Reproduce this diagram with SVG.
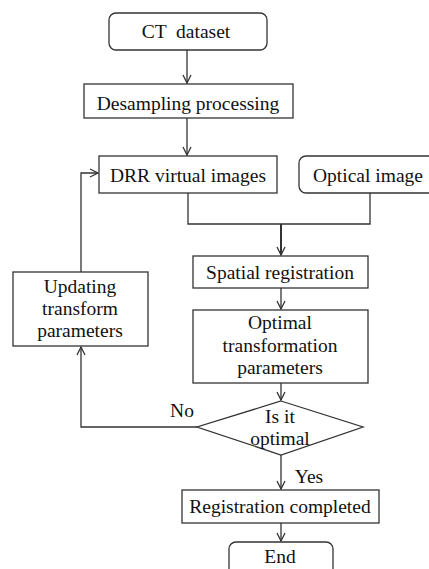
<svg xmlns="http://www.w3.org/2000/svg" width="429" height="569" viewBox="0 0 429 569">
  <style>
    .box { fill: #ffffff; stroke: #333333; stroke-width: 1.3; }
    .lbl { font-family: "Liberation Serif", "Times New Roman", serif; font-size: 19.5px; fill: #111111; text-anchor: middle; white-space: pre; }
    .edge { fill: none; stroke: #333333; stroke-width: 1.3; }
    .thick { stroke-width: 2; }
  </style>
  <defs>
    <marker id="arrow" viewBox="0 0 10 10" refX="9" refY="5" markerWidth="10" markerHeight="10" markerUnits="userSpaceOnUse" orient="auto">
      <path d="M1,1 L9,5 L1,9" fill="none" stroke="#333333" stroke-width="1.3"/>
    </marker>
  </defs>
  <rect width="429" height="569" fill="#ffffff"/>

  <g id="connectors">
    <line class="edge" x1="187" y1="50" x2="187" y2="83" marker-end="url(#arrow)"/>
    <line class="edge" x1="187" y1="118" x2="187" y2="155" marker-end="url(#arrow)"/>
    <polyline class="edge" points="188,193 188,224 370,224 370,193"/>
    <line class="edge thick" x1="281" y1="224" x2="281" y2="255" marker-end="url(#arrow)"/>
    <line class="edge" x1="281" y1="288" x2="281" y2="309" marker-end="url(#arrow)"/>
    <line class="edge" x1="281" y1="383" x2="281" y2="400" marker-end="url(#arrow)"/>
    <polyline class="edge" points="197,427 81,427 81,347" marker-end="url(#arrow)"/>
    <polyline class="edge" points="81,272 81,173 98,173" marker-end="url(#arrow)"/>
    <line class="edge" x1="281" y1="455" x2="281" y2="489" marker-end="url(#arrow)"/>
    <line class="edge" x1="281" y1="523" x2="281" y2="541" marker-end="url(#arrow)"/>
    <text class="lbl" x="182" y="417">No</text>
    <text class="lbl" x="309" y="483">Yes</text>
  </g>

  <g id="ct-dataset">
    <rect class="box" x="109" y="13" width="158" height="37" rx="7"/>
    <text class="lbl" x="186" y="38">CT  dataset</text>
  </g>

  <g id="desampling">
    <rect class="box" x="84" y="84" width="209" height="34"/>
    <text class="lbl" x="188" y="110">Desampling processing</text>
  </g>

  <g id="drr-images">
    <rect class="box" x="99" y="156" width="178" height="37"/>
    <text class="lbl" x="188" y="182">DRR virtual images</text>
  </g>

  <g id="optical-image">
    <rect class="box" x="299" y="156" width="140" height="37" rx="7"/>
    <text class="lbl" x="368" y="182">Optical image</text>
  </g>

  <g id="spatial-registration">
    <rect class="box" x="193" y="256" width="175" height="32"/>
    <text class="lbl" x="280" y="279">Spatial registration</text>
  </g>

  <g id="updating-parameters">
    <rect class="box" x="13" y="272" width="135" height="74"/>
    <text class="lbl" x="80" y="293">Updating</text>
    <text class="lbl" x="80" y="315">transform</text>
    <text class="lbl" x="80" y="337">parameters</text>
  </g>

  <g id="optimal-parameters">
    <rect class="box" x="193" y="310" width="175" height="73"/>
    <text class="lbl" x="280" y="329">Optimal</text>
    <text class="lbl" x="280" y="352">transformation</text>
    <text class="lbl" x="280" y="374">parameters</text>
  </g>

  <g id="is-optimal">
    <polygon class="box" points="281,401 363,427 281,455 197,427"/>
    <text class="lbl" x="280" y="423">Is it</text>
    <text class="lbl" x="280" y="445">optimal</text>
  </g>

  <g id="registration-completed">
    <rect class="box" x="182" y="490" width="197" height="33"/>
    <text class="lbl" x="280" y="513">Registration completed</text>
  </g>

  <g id="end">
    <rect class="box" x="229" y="542" width="104" height="40" rx="7"/>
    <text class="lbl" x="280" y="563">End</text>
  </g>
</svg>
